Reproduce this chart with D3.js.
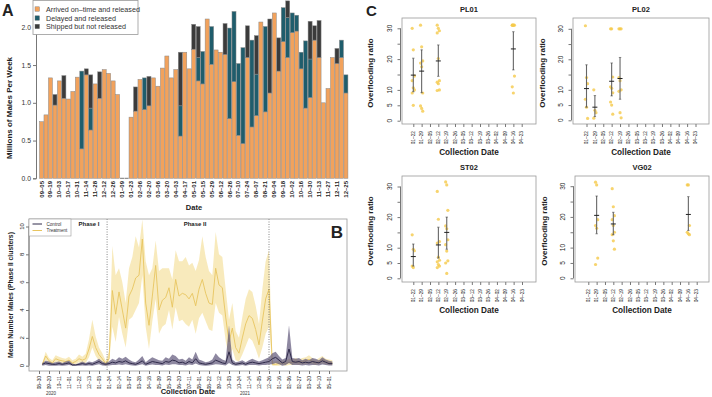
<!DOCTYPE html>
<html>
<head>
<meta charset="utf-8">
<script src="https://cdn.jsdelivr.net/npm/d3@7"></script>
<style>
body { margin: 0; background: #fff; }
svg { font-family: "Liberation Sans", Arial, sans-serif; }
</style>
</head>
<body>
<div id="chart"></div>
<script>
// ---------- Panel A data (millions of males per week) ----------
var aStart = new Date(2020, 8, 5);
var onTime = [0.75,0.84,1.33,0.97,1.29,1.06,1.05,1.15,1.34,0.39,1.37,0.64,1.25,1.06,1.44,1.39,1.29,1.11,0,0,
  0.81,0.89,1.31,0.91,0.96,1.33,1.22,1.46,1.62,1.33,1.44,0.56,1.67,1.45,1.71,1.29,1.25,2.11,1.51,1.70,
  1.67,1.64,0.79,1.28,0.57,0.46,1.60,0.68,0.83,2.07,0.88,1.13,2.19,1.42,1.81,1.60,1.93,1.95,1.45,0.93,
  1.07,1.83,1.60,1.00,1.19,1.60,1.52,1.60,1.13];
var delayed = [0,0,0,0,0,0,0,0,0,1.03,0,0.29,0,0,0,0,0,0,0,0,
  0,0,0,0.42,0,0,0,0,0,0,0,0.40,0,0,0,0.31,0.43,0,0.50,0,
  0,0,1.20,0.93,0.95,1.27,0,1.15,0.55,0,1.13,0,0,0,0.45,0.53,0.26,0.21,0.22,0.89,
  0.51,0,0,0,0,0,0,0.23,0.24];
var notReleased = [0,0,0,0.14,0,0.30,0,0,0,0,0.08,0.44,0,0.35,0,0,0,0,0,0,
  0,0.32,0,0,0.39,0,0,0,0,0,0,0.71,0,0,0.33,0.41,0,0,0,0,
  0,0.41,0,0,0,0,0.42,0,0.51,0,0,0.98,0,0.44,0,0.22,0,0,0,0,
  0.50,0.19,0.49,0,0,0,0.20,0,0];
var aSeries = ["Arrived on\u2013time and released", "Delayed and released", "Shipped but not released"];
var aColors = ["#f2a25c", "#1f5d6c", "#3b3b3b"];
var aTicks = [0, 0.5, 1, 1.5, 2];

// ---------- Panel B data (weekly from 2020-09-06) ----------
var bStart = new Date(2020, 8, 6);
var treatMean = [0.1,0.7,0.35,0.2,0.5,0.4,0.35,0.3,0.4,0.2,0.3,0.5,0.4,0.5,1.2,2.1,1.3,0.8,0.5,0.15,
  0.5,5.4,3.7,5.3,4.0,2.7,5.0,5.5,6.3,6.5,9.1,4.5,2.9,5.0,7.2,4.0,4.7,4.9,5.6,4.2,6.2,5.0,5.2,5.1,4.8,5.2,4.3,5.5,6.2,5.2,4.5,4.4,7.0,5.8,5.6,3.5,1.7,2.7,1.3,0.9,2.0,3.0,3.6,3.4,2.6,1.5,3.2,4.8,5.5,
  0.1,0.1,0.15,0.2,0.15,0.25,0.2,0.3,0.25,0.3,0.35,0.45,0.3,0.2,0.3,0.45,0.3,0.25,0.2];
var treatHi = [0.2,1.0,0.55,0.4,0.75,0.65,0.55,0.5,0.65,0.4,0.5,0.8,0.65,0.85,1.9,3.3,2.1,1.3,0.9,0.35,
  1.0,8.6,6.5,7.0,6.0,4.5,7.0,7.8,9.3,8.5,10.5,7.5,6.5,7.0,9.0,6.8,7.0,7.0,7.0,6.2,8.3,7.5,7.5,7.8,7.2,7.4,6.8,7.6,9.3,7.8,6.8,6.5,9.6,8.0,7.8,5.5,3.3,4.5,2.5,2.0,3.5,4.8,5.5,5.3,4.3,3.0,5.5,7.5,8.3,
  0.3,0.3,0.35,0.4,0.35,0.5,0.45,0.55,0.45,0.55,0.6,0.75,0.55,0.4,0.55,0.7,0.5,0.45,0.4];
var treatLo = [0,0.4,0.15,0.05,0.25,0.2,0.15,0.1,0.2,0.05,0.1,0.25,0.15,0.2,0.6,1.3,0.7,0.35,0.15,0,
  0.1,2.8,1.7,3.5,2.3,1.3,3.3,3.5,4.0,4.5,6.5,2.8,1.2,3.2,4.8,2.3,2.8,3.0,4.0,2.6,4.2,3.2,3.3,3.0,2.8,3.3,2.3,3.4,3.8,3.2,2.6,2.5,4.5,3.8,3.6,1.8,0.5,1.2,0.4,0.3,0.8,1.4,2.0,1.8,1.2,0.5,1.3,2.3,2.8,
  0,0,0,0.05,0,0.05,0.05,0.1,0.05,0.1,0.1,0.15,0.1,0.05,0.1,0.15,0.1,0.05,0.05];
var ctrlMean = [0.1,0.2,0.15,0.1,0.1,0.15,0.1,0.15,0.2,0.05,0.05,0.1,0.15,0.1,0.15,0.1,0.2,0.3,0.15,0.1,
  0.15,0.25,0.2,0.3,0.25,0.35,0.2,0.15,0.1,0.2,0.35,0.1,0.2,0.3,0.25,0.2,0.15,0.3,0.25,0.4,0.35,0.2,0.25,0.15,0.3,0.2,0.5,0.2,0.15,0.1,0.15,0.2,0.4,0.3,0.2,0.15,1.0,0.2,0.1,0.15,0.2,0.1,0.2,0.25,0.2,0.15,0.2,0.25,0.3,
  0.5,0.6,0.4,0.2,0.3,1.2,0.3,0.25,0.3,0.2,0.25,0.2,0.3,0.25,0.2,0.35,0.25,0.15,0.15];
var ctrlHi = [0.2,0.35,0.3,0.2,0.25,0.3,0.2,0.3,0.35,0.15,0.1,0.2,0.3,0.2,0.3,0.25,0.35,0.5,0.3,0.2,
  0.3,0.5,0.4,0.6,0.5,0.65,0.45,0.3,0.25,0.45,0.7,0.25,0.45,0.6,0.5,0.4,0.35,0.6,0.5,0.8,0.7,0.45,0.5,0.35,0.6,0.45,1.0,0.45,0.35,0.25,0.3,0.45,0.9,0.6,0.45,0.35,2.9,0.45,0.25,0.3,0.4,0.25,0.4,0.5,0.4,0.3,0.4,0.5,0.6,
  0.9,1.0,0.7,0.45,0.55,2.9,0.55,0.5,0.55,0.4,0.5,0.4,0.55,0.5,0.4,0.6,0.45,0.35,0.3];
var ctrlLo = [0,0.05,0,0,0,0.02,0,0.02,0.05,0,0,0,0.02,0,0.02,0,0.05,0.1,0.02,0,
  0.02,0.05,0.05,0.08,0.05,0.1,0.05,0.02,0,0.05,0.1,0,0.05,0.08,0.05,0.05,0.02,0.08,0.05,0.1,0.1,0.05,0.05,0.02,0.08,0.05,0.15,0.05,0.02,0,0.02,0.05,0.1,0.08,0.05,0.02,0.2,0.05,0,0.02,0.05,0,0.05,0.05,0.05,0.02,0.05,0.05,0.08,
  0.1,0.2,0.1,0,0.05,0.2,0.05,0.05,0.05,0.02,0.05,0.02,0.05,0.05,0.02,0.08,0.05,0.02,0.02];
var bTickStart = new Date(2020, 7, 30);
var bTickEnd = new Date(2022, 4, 1);
var bYTicks = [0, 2, 4, 6, 8, 10];
var phaseLines = [new Date(2021, 0, 20), new Date(2021, 11, 26)];

// ---------- Panel C data (overflooding ratio) ----------
var cStart = new Date(2021, 0, 22);
var cTitles = ["PL01", "PL02", "ST02", "VG02"];
var cPoints = [
  [[0,[30,23,14.5,13,10.7,10,9,5]], [1,[31,24,19.4,18.7,17.5,9,4.8,4,3.1]], [3,[31,30,29.2,28.5,20.2,13,12.5,12,10,9.8]], [12,[31,31,31,31,31,14.5,11,9]]],
  [[0,[31,14,12,6.9,4.3,0.6]], [1,[10,3.3,2.5,0.7]], [3,[30,30,14.2,11,10.5,9,6,5,2]], [4,[30,30,30,14,13,10,9.5,2.5,0.8]]],
  [[0,[14.2,9.5,9,4,3.5]], [3,[28.4,19.3,12,11.5,6.9,5.9,5.4,4.5,4,3.5]], [4,[31.5,30.5,22.2,17.1,16.2,12.6,11,8.9,5.7,5,1.6]]],
  [[1,[31.3,30.4,19.1,17.2,16.3,6.6,4.5]], [3,[29.2,23.3,20.4,19.1,17.2,15,14.2,12.2,9.5]], [12,[30.4,30.4,17.2,15,14.5,14.2]]]
];
var cStats = [
  [[0,14.8,9.4,20.3], [1,16.1,9.1,23], [3,19.4,14.4,24.6], [12,23.3,16.5,28.9]],
  [[0,10.4,4.3,18.2], [1,4.3,1.2,8.1], [3,12.8,8,18.8], [4,13.7,6.9,20.6]],
  [[0,7.1,4,11.2], [3,10.9,6.6,16.7], [4,15,9.5,20]],
  [[1,20.5,14.5,26.8], [3,17.7,14.2,21.5], [12,20.8,15.6,26.6]]
];
var cYTicks = [0, 5, 10, 15, 20, 25, 30];
var cYLabels = [0, 5, 10, 20, 30];

var fmt = d3.timeFormat("%m-%d");

var svg = d3.select("#chart").append("svg")
  .attr("width", 712)
  .attr("height", 397);

function vtext(g, x, y, txt, size, weight, anchor) {
  return g.append("text")
    .attr("transform", "translate(" + x + "," + y + ")rotate(-90)")
    .attr("text-anchor", anchor || "middle")
    .attr("font-size", size)
    .attr("font-weight", weight || "normal")
    .attr("fill", "#222")
    .text(txt);
}

// ================= Panel A =================
var aDates = onTime.map(function(d, i) { return fmt(d3.timeDay.offset(aStart, 7 * i)); });
var aX = d3.scaleBand().domain(aDates).range([39.5, 39.5 + 69 * 4.47]).paddingInner(0.1);
var aY = d3.scaleLinear().domain([0, 2]).range([178.3, 27.3]);

var aData = aDates.map(function(d, i) {
  return { date: d, s0: onTime[i], s1: delayed[i], s2: notReleased[i] };
});
var stack = d3.stack().keys(["s0", "s1", "s2"])(aData);
var gA = svg.append("g");

gA.selectAll("g.layer")
  .data(stack)
  .enter().append("g")
  .attr("fill", function(d, i) { return aColors[i]; })
  .selectAll("rect")
  .data(function(d) { return d.filter(function(p) { return p[1] - p[0] > 0; }); })
  .enter().append("rect")
  .attr("x", function(d) { return aX(d.data.date); })
  .attr("width", aX.bandwidth())
  .attr("y", function(d) { return aY(d[1]); })
  .attr("height", function(d) { return aY(d[0]) - aY(d[1]); })
  .attr("stroke", "#8a8a8a")
  .attr("stroke-width", 0.5);

// zero bars in the gap
gA.selectAll("line.zero")
  .data(aData.filter(function(d) { return d.s0 + d.s1 + d.s2 === 0; }))
  .enter().append("line")
  .attr("x1", function(d) { return aX(d.date); })
  .attr("x2", function(d) { return aX(d.date) + aX.bandwidth(); })
  .attr("y1", aY(0)).attr("y2", aY(0))
  .attr("stroke", "#555").attr("stroke-width", 0.8);

var aAxis = gA.append("g")
  .attr("transform", "translate(36,0)")
  .call(d3.axisLeft(aY).tickValues(aTicks).tickFormat(d3.format(".1f")).tickSize(3).tickPadding(2));
aAxis.select(".domain").attr("stroke", "#777");
aAxis.selectAll(".tick line").attr("stroke", "#777");
aAxis.selectAll("text").attr("font-size", 6.8).attr("fill", "#333").attr("font-family", "Liberation Sans, Arial");

aDates.forEach(function(d, i) {
  if (i % 2 === 0) vtext(gA, aX(d) + aX.bandwidth() / 2 + 2, 181, d.replace("-", "\u2013"), 6, "bold", "end");
});
vtext(gA, 12, 108, "Millions of Males Per Week", 8, "bold");
gA.append("text").attr("x", 194).attr("y", 210).attr("text-anchor", "middle")
  .attr("font-size", 7.5).attr("font-weight", "bold").attr("fill", "#222").text("Date");

// legend A
var legA = gA.append("g");
legA.append("rect").attr("x", 33).attr("y", 0.5).attr("width", 105).attr("height", 34)
  .attr("fill", "#fff").attr("stroke", "#999").attr("stroke-width", 0.8);
aSeries.forEach(function(s, i) {
  var yy = [9.3, 18.3, 26.7][i];
  legA.append("rect").attr("x", 35).attr("y", yy - 2.5).attr("width", 4.5).attr("height", 4.5)
    .attr("fill", aColors[i]).attr("stroke", "#777").attr("stroke-width", 0.4);
  legA.append("text").attr("x", 46).attr("y", yy + 2.3).attr("font-size", 7.2).attr("fill", "#333").text(s);
});
svg.append("text").attr("x", 2).attr("y", 16).attr("font-size", 16).attr("font-weight", "bold").attr("fill", "#222").text("A");

// ================= Panel B =================
var gB = svg.append("g");
var bBox = { x0: 29, x1: 347, y0: 219, y1: 371 };
var bX = d3.scaleTime().domain([bTickStart, bTickEnd]).range([39, 329]);
var bY = d3.scaleLinear().domain([0, 10]).range([365.7, 226.5]);
var bDates = treatMean.map(function(d, i) { return d3.timeDay.offset(bStart, 7 * i); });

svg.append("defs").append("clipPath").attr("id", "clipB")
  .append("rect").attr("x", bBox.x0).attr("y", bBox.y0).attr("width", bBox.x1 - bBox.x0).attr("height", bBox.y1 - bBox.y0);

var plotB = gB.append("g").attr("clip-path", "url(#clipB)");
var area = function(lo, hi) {
  return d3.area().x(function(d, i) { return bX(bDates[i]); })
    .y0(function(d, i) { return bY(lo[i]); })
    .y1(function(d, i) { return bY(hi[i]); });
};
var line = d3.line().x(function(d, i) { return bX(bDates[i]); }).y(function(d) { return bY(d); });

plotB.append("path").datum(treatMean).attr("d", area(treatLo, treatHi))
  .attr("fill", "#f5df98").attr("fill-opacity", 0.65);
plotB.append("path").datum(treatMean).attr("d", line)
  .attr("fill", "none").attr("stroke", "#e8c560").attr("stroke-width", 0.9);
plotB.append("path").datum(ctrlMean).attr("d", area(ctrlLo, ctrlHi))
  .attr("fill", "#5e5679").attr("fill-opacity", 0.7);
plotB.append("path").datum(ctrlMean).attr("d", line)
  .attr("fill", "none").attr("stroke", "#2f2a4a").attr("stroke-width", 1);

phaseLines.forEach(function(d) {
  gB.append("line").attr("x1", bX(d)).attr("x2", bX(d)).attr("y1", bBox.y0).attr("y2", bBox.y1)
    .attr("stroke", "#555").attr("stroke-width", 0.7).attr("stroke-dasharray", "1,1.5");
});

gB.append("rect").attr("x", bBox.x0).attr("y", bBox.y0).attr("width", bBox.x1 - bBox.x0).attr("height", bBox.y1 - bBox.y0)
  .attr("fill", "none").attr("stroke", "#999").attr("stroke-width", 0.8);

var bTicks = d3.range(0, 30).map(function(k) { return d3.timeDay.offset(bTickStart, 21 * k); });
var bXAxis = gB.append("g").attr("transform", "translate(0," + bBox.y1 + ")")
  .call(d3.axisBottom(bX).tickValues(bTicks).tickSize(3).tickFormat(""));
bXAxis.select(".domain").remove();
bXAxis.selectAll(".tick line").attr("stroke", "#777");
bTicks.forEach(function(d) { vtext(gB, bX(d) + 1.7, 376, fmt(d).replace("-", "\u2013"), 4.8, "normal", "end"); });

var bYAxis = gB.append("g").attr("transform", "translate(" + bBox.x0 + ",0)")
  .call(d3.axisLeft(bY).tickValues(bYTicks).tickSize(3).tickFormat(""));
bYAxis.select(".domain").attr("stroke", "#777").attr("d", "M-0," + bY(0) + "V" + bY(10));
bYAxis.selectAll(".tick line").attr("stroke", "#777");
bYTicks.forEach(function(v) { vtext(gB, 23.5, bY(v), String(v), 6, "normal", "middle"); });

vtext(gB, 13, 295, "Mean Number Males (Phase II clusters)", 6.8, "bold");
gB.append("text").attr("x", 188).attr("y", 394).attr("text-anchor", "middle")
  .attr("font-size", 7.5).attr("font-weight", "bold").attr("fill", "#222").text("Collection Date");
gB.append("text").attr("x", 51).attr("y", 395).attr("text-anchor", "middle").attr("font-size", 4.5).attr("fill", "#333").text("2020");
gB.append("text").attr("x", 245).attr("y", 395).attr("text-anchor", "middle").attr("font-size", 4.5).attr("fill", "#333").text("2021");
gB.append("text").attr("x", 89).attr("y", 226).attr("text-anchor", "middle").attr("font-size", 6).attr("font-weight", "bold").attr("fill", "#222").text("Phase I");
gB.append("text").attr("x", 195).attr("y", 226).attr("text-anchor", "middle").attr("font-size", 6).attr("font-weight", "bold").attr("fill", "#222").text("Phase II");
gB.append("text").attr("x", 337).attr("y", 238).attr("text-anchor", "middle").attr("font-size", 17).attr("font-weight", "bold").attr("fill", "#222").text("B");

var legB = gB.append("g");
legB.append("rect").attr("x", bBox.x0).attr("y", bBox.y0).attr("width", 42).attr("height", 17)
  .attr("fill", "#fff").attr("stroke", "#999").attr("stroke-width", 0.6);
[["Control", "#2f2a4a", 224], ["Treatment", "#e8c560", 230.5]].forEach(function(e) {
  legB.append("line").attr("x1", 32.5).attr("x2", 42).attr("y1", e[2]).attr("y2", e[2]).attr("stroke", e[1]).attr("stroke-width", 1);
  legB.append("text").attr("x", 46.5).attr("y", e[2] + 1.6).attr("font-size", 4.6).attr("fill", "#333").text(e[0]);
});

// ================= Panel C =================
var cBoxes = [
  { x0: 402, x1: 536, y0: 18, y1: 124, yb: 120.7, yt: 28.3, xf: 413.3, xl: 521.7, yl: 373 },
  { x0: 573, x1: 709, y0: 18, y1: 124, yb: 120.3, yt: 28.8, xf: 586.5, xl: 695.5, yl: 545 },
  { x0: 402, x1: 536, y0: 176, y1: 282, yb: 278.3, yt: 186.5, xf: 413.3, xl: 522, yl: 373 },
  { x0: 575, x1: 709, y0: 176, y1: 282, yb: 278.3, yt: 186.2, xf: 588.3, xl: 696.7, yl: 547 }
];
var cDates = d3.range(14).map(function(k) { return fmt(d3.timeDay.offset(cStart, 7 * k)); });

cBoxes.forEach(function(b, p) {
  var g = svg.append("g");
  var x = d3.scalePoint().domain(d3.range(14)).range([b.xf, b.xl]);
  var y = d3.scaleLinear().domain([0, 30]).range([b.yb, b.yt]);

  g.append("rect").attr("x", b.x0).attr("y", b.y0).attr("width", b.x1 - b.x0).attr("height", b.y1 - b.y0)
    .attr("fill", "none").attr("stroke", "#999").attr("stroke-width", 0.8);

  var xa = g.append("g").attr("transform", "translate(0," + b.y1 + ")")
    .call(d3.axisBottom(x).tickSize(3).tickFormat(""));
  xa.select(".domain").remove();
  xa.selectAll(".tick line").attr("stroke", "#777");
  cDates.forEach(function(d, k) { vtext(g, x(k) + 1.7, b.y1 + 7, d.replace("-", "\u2013"), 4.8, "normal", "end"); });

  var ya = g.append("g").attr("transform", "translate(" + (b.x0 - 1.5) + ",0)")
    .call(d3.axisLeft(y).tickValues(cYTicks).tickSize(3).tickFormat(""));
  ya.select(".domain").attr("stroke", "#777").attr("d", "M0," + y(0) + "V" + y(30));
  ya.selectAll(".tick line").attr("stroke", "#777");
  cYLabels.forEach(function(v) { vtext(g, b.x0 - 10, y(v), String(v), 6.5, "normal", "middle"); });

  vtext(g, b.yl, (b.y0 + b.y1) / 2 + 2, "Overflooding ratio", 8, "bold");
  g.append("text").attr("x", (b.x0 + b.x1) / 2).attr("y", b.y0 - 6).attr("text-anchor", "middle")
    .attr("font-size", 7.5).attr("font-weight", "bold").attr("fill", "#222").text(cTitles[p]);
  g.append("text").attr("x", (b.x0 + b.x1) / 2).attr("y", b.y1 + 31).attr("text-anchor", "middle")
    .attr("font-size", 8.2).attr("font-weight", "bold").attr("fill", "#222").text("Collection Date");

  cPoints[p].forEach(function(grp) {
    g.selectAll(null).data(grp[1]).enter().append("circle")
      .attr("cx", function(v, j) { return x(grp[0]) + ((j % 3) - 1) * 1.1; })
      .attr("cy", function(v) { return y(v); })
      .attr("r", 1.6)
      .attr("fill", "#f5c94a").attr("fill-opacity", 0.8);
  });
  cStats[p].forEach(function(s) {
    var cx = x(s[0]);
    g.append("line").attr("x1", cx).attr("x2", cx).attr("y1", y(s[2])).attr("y2", y(s[3]))
      .attr("stroke", "#666").attr("stroke-width", 1.1);
    [s[2], s[3]].forEach(function(v) {
      g.append("line").attr("x1", cx - 1.2).attr("x2", cx + 1.2).attr("y1", y(v)).attr("y2", y(v))
        .attr("stroke", "#444").attr("stroke-width", 0.6);
    });
    g.append("line").attr("x1", cx - 2.5).attr("x2", cx + 2.5).attr("y1", y(s[1])).attr("y2", y(s[1]))
      .attr("stroke", "#222").attr("stroke-width", 1);
  });
});
svg.append("text").attr("x", 366).attr("y", 16).attr("font-size", 15).attr("font-weight", "bold").attr("fill", "#222").text("C");
</script>
</body>
</html>
